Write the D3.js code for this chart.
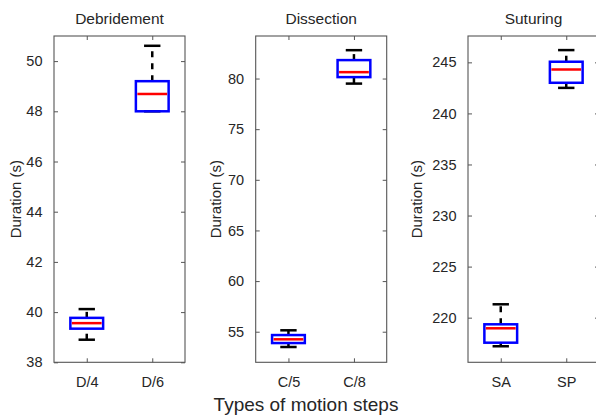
<!DOCTYPE html>
<html>
<head>
<meta charset="utf-8">
<script src="https://cdn.jsdelivr.net/npm/d3@7"></script>
<style>
  html, body { margin: 0; padding: 0; background: #fff; }
  svg text { font-family: "Liberation Sans", Arial, Helvetica, sans-serif; fill: #262626; }
</style>
</head>
<body>
<svg id="chart" width="596" height="417"></svg>
<script>
// ---- data ----
const panelTitles = ["Debridement", "Dissection", "Suturing"];
const categories = [["D/4", "D/6"], ["C/5", "C/8"], ["SA", "SP"]];
const medians   = [[39.56, 48.69], [54.25, 80.63], [218.96, 244.3]];
const q1        = [[39.34, 48.0],  [53.88, 80.14], [217.55, 243.0]];
const q3        = [[39.77, 49.2],  [54.67, 81.82], [219.35, 245.06]];
const whiskerLo = [[38.9, 48.0],   [53.49, 79.5],  [217.2, 242.5]];
const whiskerHi = [[40.12, 50.61], [55.14, 82.8],  [221.31, 246.2]];
const yDomains  = [[38, 51], [51.98, 84.2], [215.63, 247.58]];
const yTicks    = [[38, 40, 42, 44, 46, 48, 50], [55, 60, 65, 70, 75, 80], [220, 225, 230, 235, 240, 245]];
const yLabel = "Duration (s)";
const xLabel = "Types of motion steps";

// ---- layout ----
const panelLeft = [54, 255.7, 468];
const yLabelOffset = [-33.5, -34.5, -46];
const panelWidth = 131;
const plotTop = 36, plotBottom = 362.3;
const axisColor = "#262626";
const frameColor = "#555";
const tickLen = 4;

const svg = d3.select("#chart");

panelTitles.forEach((title, p) => {
  const x0 = panelLeft[p];
  const g = svg.append("g").attr("transform", `translate(${x0},0)`);
  const x = d3.scalePoint().domain(categories[p]).range([0, panelWidth]).padding(0.5);
  const step = x.step();
  const y = d3.scaleLinear().domain(yDomains[p]).range([plotBottom, plotTop]);

  // frame of axes
  g.append("rect").attr("x", 0).attr("y", plotTop).attr("width", panelWidth).attr("height", plotBottom - plotTop)
    .attr("fill", "none").attr("stroke", frameColor).attr("stroke-width", 1.1);

  // left axis (ticks inward)
  const yAxis = d3.axisLeft(y).tickValues(yTicks[p]).tickSize(-tickLen).tickPadding(7.5 + tickLen).tickFormat(d3.format("d"));
  const ya = g.append("g").call(yAxis);
  ya.select(".domain").remove();
  ya.selectAll("line").attr("stroke", frameColor);
  ya.selectAll("text").style("font-size", "14.5px").attr("fill", axisColor);
  // right ticks (inward)
  const yr = g.append("g").attr("transform", `translate(${panelWidth},0)`)
    .call(d3.axisRight(y).tickValues(yTicks[p]).tickSize(-tickLen).tickFormat(""));
  yr.select(".domain").remove();
  yr.selectAll("line").attr("stroke", frameColor);

  // bottom axis
  const xa = g.append("g").attr("transform", `translate(0,${plotBottom})`)
    .call(d3.axisBottom(x).tickSize(-tickLen).tickPadding(10 + tickLen));
  xa.select(".domain").remove();
  xa.selectAll("line").attr("stroke", frameColor);
  xa.selectAll("text").style("font-size", "14.5px").attr("fill", axisColor);
  // top ticks
  const xt = g.append("g").attr("transform", `translate(0,${plotTop})`)
    .call(d3.axisTop(x).tickSize(-tickLen).tickFormat(""));
  xt.select(".domain").remove();
  xt.selectAll("line").attr("stroke", frameColor);

  // title
  g.append("text").attr("x", panelWidth / 2).attr("y", 24).attr("text-anchor", "middle")
    .style("font-size", "15.5px").text(title);

  // y label
  g.append("text").attr("transform", `translate(${yLabelOffset[p]},${(plotTop + plotBottom) / 2}) rotate(-90)`)
    .attr("text-anchor", "middle").style("font-size", "15px").text(yLabel);

  // boxes
  const boxW = step * 0.5, capW = step * 0.25;
  categories[p].forEach((c, i) => {
    const cx = x(c);
    // whiskers (dashed, drawn upward from lower end)
    g.append("line").attr("x1", cx).attr("x2", cx).attr("y1", y(q3[p][i])).attr("y2", y(whiskerHi[p][i]))
      .attr("stroke", "#000").attr("stroke-width", 2.5).attr("stroke-dasharray", "6,6");
    g.append("line").attr("x1", cx).attr("x2", cx).attr("y1", y(whiskerLo[p][i])).attr("y2", y(q1[p][i]))
      .attr("stroke", "#000").attr("stroke-width", 2.5).attr("stroke-dasharray", "6,6");
    // caps
    [whiskerHi[p][i], whiskerLo[p][i]].forEach(v => {
      g.append("line").attr("x1", cx - capW / 2).attr("x2", cx + capW / 2).attr("y1", y(v)).attr("y2", y(v))
        .attr("stroke", "#000").attr("stroke-width", 2.5);
    });
    // box
    g.append("rect").attr("x", cx - boxW / 2).attr("width", boxW)
      .attr("y", y(q3[p][i])).attr("height", y(q1[p][i]) - y(q3[p][i]))
      .attr("fill", "none").attr("stroke", "#0000ff").attr("stroke-width", 2.5);
    // median
    g.append("line").attr("x1", cx - boxW / 2 + 1.5).attr("x2", cx + boxW / 2 - 1.5)
      .attr("y1", y(medians[p][i])).attr("y2", y(medians[p][i]))
      .attr("stroke", "#ff0000").attr("stroke-width", 2.5);
  });
});

// shared x label
svg.append("text").attr("x", 306).attr("y", 410.5).attr("text-anchor", "middle")
  .style("font-size", "19px").text(xLabel);
</script>
</body>
</html>
